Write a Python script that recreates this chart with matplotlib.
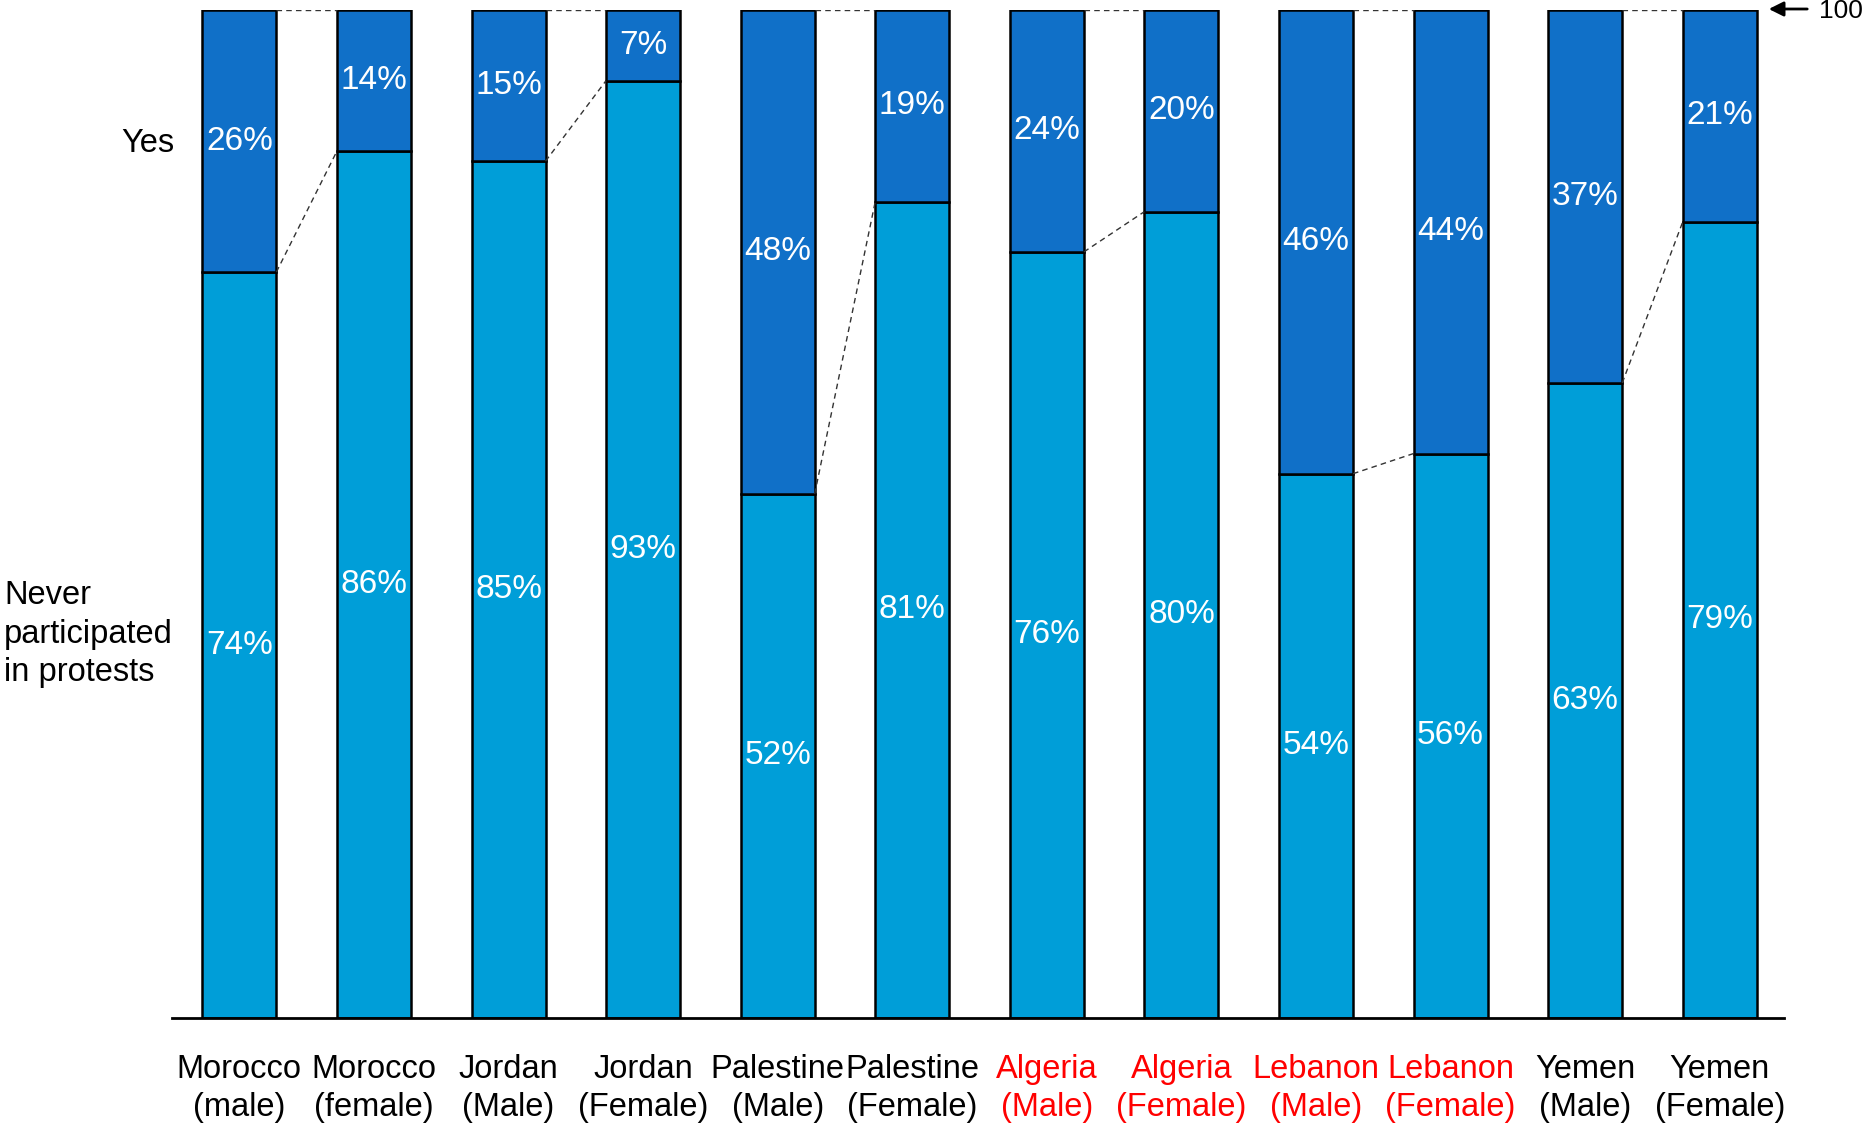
import numpy as np
import matplotlib
matplotlib.use('Agg')
import matplotlib.pyplot as plt

plt.rcParams['font.family'] = ['Liberation Sans', 'DejaVu Sans']

# data
groups = ['Morocco\n(male)', 'Morocco\n(female)', 'Jordan\n(Male)', 'Jordan\n(Female)',
          'Palestine\n(Male)', 'Palestine\n(Female)', 'Algeria\n(Male)', 'Algeria\n(Female)',
          'Lebanon\n(Male)', 'Lebanon\n(Female)', 'Yemen\n(Male)', 'Yemen\n(Female)']
never = [74, 86, 85, 93, 52, 81, 76, 80, 54, 56, 63, 79]
yes = [26, 14, 15, 7, 48, 19, 24, 20, 46, 44, 37, 21]
red_groups = ['Algeria', 'Lebanon']

c_never = '#009ED8'
c_yes = '#1070C8'
w = 0.55

fig = plt.figure(figsize=(18.64, 11.24), dpi=100)
ax = fig.add_axes([0.0923, 0.0943, 0.865, 0.8968])

x = np.arange(len(groups))
ax.bar(x, never, width=w, color=c_never, edgecolor='black', linewidth=1.8)
ax.bar(x, yes, width=w, bottom=never, color=c_yes, edgecolor='black', linewidth=1.8)

# value labels in the middle of each segment
for i in range(len(groups)):
    ax.text(x[i], never[i] / 2, f'{never[i]}%', ha='center', va='center',
            color='white', fontsize=24)
    ax.text(x[i], never[i] + yes[i] / 2, f'{yes[i]}%', ha='center', va='center',
            color='white', fontsize=24)

# dashed connectors between male/female pairs
for i in range(0, len(groups), 2):
    x0 = x[i] + w / 2
    x1 = x[i + 1] - w / 2
    ax.plot([x0, x1], [never[i] + yes[i], never[i + 1] + yes[i + 1]],
            color='#333333', linestyle=(0, (4, 3)), linewidth=1)
    ax.plot([x0, x1], [never[i], never[i + 1]],
            color='#333333', linestyle=(0, (4, 3)), linewidth=1)

ax.set_xlim(-0.5, 11.48)
ax.set_ylim(0, 100)
ax.set_xticks(x)
ax.set_xticklabels(groups, fontsize=23.5, linespacing=1.27)
for lab in ax.get_xticklabels():
    if lab.get_text().split('\n')[0] in red_groups:
        lab.set_color('#FF0000')
ax.tick_params(axis='x', length=0, pad=26)
ax.set_yticks([])
for s in ['top', 'right', 'left']:
    ax.spines[s].set_visible(False)
ax.spines['bottom'].set_linewidth(2)

# series labels on the left
fig.text(0.0935, 1 - 144 / 1124, 'Yes', ha='right', va='center', fontsize=23.5)
fig.text(0.0022, 1 - 634 / 1124, 'Never\nparticipated\nin protests', ha='left',
         va='center', fontsize=23.5, linespacing=1.3)

# "100" marker at top right
fig.text(1819 / 1864, 1 - 11 / 1124, '100', ha='left', va='center', fontsize=19)
fig.add_artist(matplotlib.patches.FancyArrowPatch(
    (1810 / 1864, 1 - 9 / 1124), (1766 / 1864, 1 - 9 / 1124),
    transform=fig.transFigure, arrowstyle='-|>', mutation_scale=22,
    color='black', linewidth=2))

fig.savefig('out.png', dpi=100)
